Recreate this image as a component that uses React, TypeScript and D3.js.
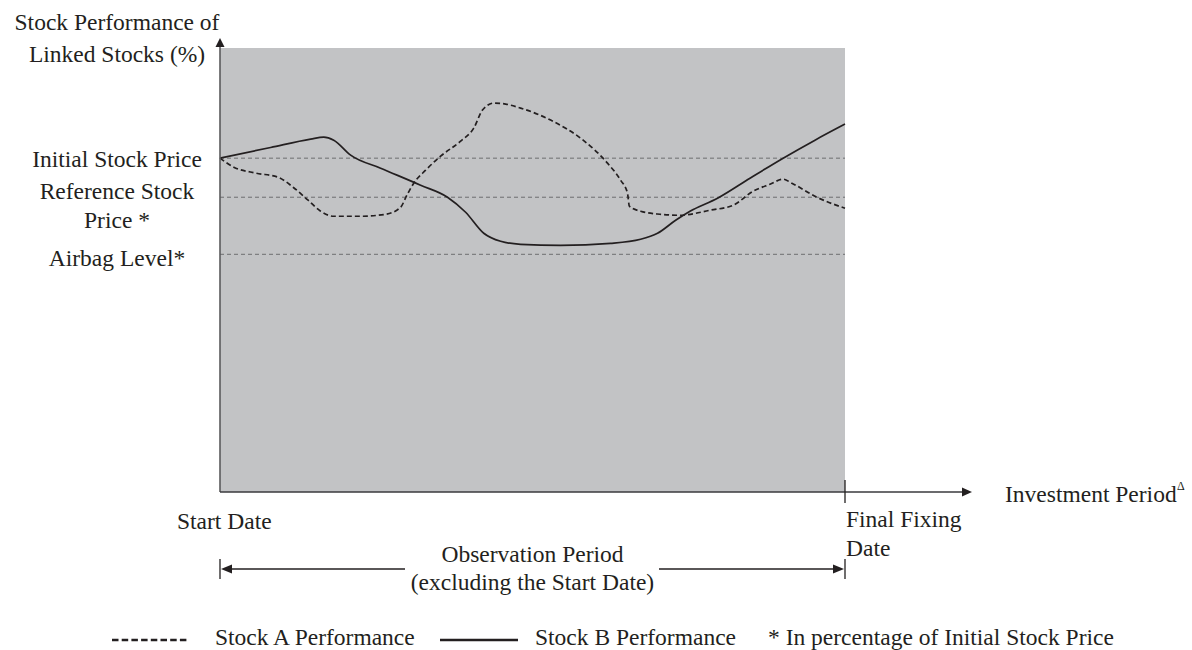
import React from "react";
import * as d3 from "d3";

// Time index (0 = Start Date, 100 = Final Fixing Date)
const stockA_t = [0, 2.2, 5.8, 9.3, 11.7, 14.1, 16.1, 18.2, 22.5, 26.5, 28.9, 29.9, 31.0, 32.9, 35.3, 38.5, 40.6, 42.0, 43.8, 45.7, 48.1, 52.9, 58.1, 62.0, 64.1, 65.2, 65.5, 67.3, 70.4, 73.6, 78.4, 82.1, 85.3, 88.0, 90.1, 91.5, 95.5, 100];
const stockA_v = [100, 97.3, 95.5, 94.3, 91.3, 87.4, 84.1, 82.6, 82.6, 83.2, 85.3, 88.9, 92.5, 96.4, 100.6, 105.1, 109.0, 114.4, 116.5, 116.2, 115.0, 111.4, 105.4, 98.5, 93.4, 89.5, 85.6, 84.1, 83.2, 82.9, 84.4, 85.9, 90.1, 92.2, 93.7, 92.5, 88.3, 85.0];
const stockB_t = [0, 8.1, 14.5, 16.6, 18.2, 20.9, 25.7, 32.1, 36.4, 39.3, 42.2, 44.9, 48.1, 54.5, 62.5, 67.3, 70.0, 72.9, 75.2, 79.6, 84.8, 90.1, 95.2, 100];
const stockB_v = [100, 103.2, 105.7, 106.3, 105.4, 100.9, 97.0, 91.9, 88.3, 83.8, 77.5, 75.1, 74.2, 73.9, 74.5, 75.7, 77.5, 81.4, 84.1, 88.0, 94.0, 100.0, 105.4, 110.2];

const levelNames = ["Initial Stock Price", "Reference Stock Price *", "Airbag Level*"];
const levelValues = [100, 88.3, 71.2];

const yDomain = [0, 133];
const xDomain = [0, 100];

const INK = "#231f20";
const FONT = "'Liberation Serif', 'Times New Roman', serif";
const FS = 23.5;

export default function App() {
  const x = d3.scaleLinear().domain(xDomain).range([220, 845]);
  const y = d3.scaleLinear().domain(yDomain).range([492, 48]);

  const line = d3
    .line<[number, number]>()
    .x((d) => x(d[0]))
    .y((d) => y(d[1]))
    .curve(d3.curveMonotoneX);

  const aPts = stockA_t.map((t, i) => [t, stockA_v[i]] as [number, number]);
  const bPts = stockB_t.map((t, i) => [t, stockB_v[i]] as [number, number]);

  const x0 = x(0);
  const x1 = x(100);
  const yb = y(0);
  const yt = y(133);
  const midX = (x0 + x1) / 2;
  const obsY = 569;

  const textProps = { fontFamily: FONT, fontSize: FS, fill: INK };

  return (
    <svg
      width={1192}
      height={650}
      style={{ position: "absolute", left: 0, top: 0, background: "#fff" }}
    >
      {/* plot background */}
      <rect x={x0} y={yt} width={x1 - x0} height={yb - yt} fill="#c2c3c5" />

      {/* level lines */}
      {levelValues.map((v, i) => (
        <line
          key={i}
          x1={x0}
          x2={x1}
          y1={y(v)}
          y2={y(v)}
          stroke="#6d6e70"
          strokeWidth={1}
          strokeDasharray="4,3"
        />
      ))}

      {/* series */}
      <path d={line(aPts) || ""} fill="none" stroke={INK} strokeWidth={1.7} strokeDasharray="5,3" />
      <path d={line(bPts) || ""} fill="none" stroke={INK} strokeWidth={1.7} />

      {/* y axis with arrow */}
      <line x1={x0} x2={x0} y1={yb} y2={45} stroke="#5a5a5c" strokeWidth={1.6} />
      <path d={`M${x0},38 L${x0 - 4.5},47 L${x0 + 4.5},47 Z`} fill={INK} />

      {/* x axis with arrow */}
      <line x1={x0} x2={964} y1={yb} y2={yb} stroke="#3a3a3c" strokeWidth={1.3} />
      <path d={`M972,${yb} L962,${yb - 4.5} L962,${yb + 4.5} Z`} fill={INK} />
      <line x1={x1} x2={x1} y1={yb - 12} y2={yb + 11} stroke={INK} strokeWidth={1.3} />

      {/* y axis title */}
      <text {...textProps} x={117} y={30} textAnchor="middle">Stock Performance of</text>
      <text {...textProps} x={117} y={62} textAnchor="middle">Linked Stocks (%)</text>

      {/* level labels */}
      <text {...textProps} x={117} y={167} textAnchor="middle">{levelNames[0]}</text>
      <text {...textProps} x={117} y={199} textAnchor="middle">Reference Stock</text>
      <text {...textProps} x={117} y={228} textAnchor="middle">Price *</text>
      <text {...textProps} x={117} y={266} textAnchor="middle">{levelNames[2]}</text>

      {/* x axis title */}
      <text {...textProps} x={1005} y={502}>
        Investment Period
      </text>
      <text fontFamily={FONT} fontSize={12} fill={INK} x={1177} y={490}>Δ</text>

      {/* date labels */}
      <text {...textProps} x={177} y={529}>Start Date</text>
      <text {...textProps} x={846} y={527}>Final Fixing</text>
      <text {...textProps} x={846} y={556}>Date</text>

      {/* observation period */}
      <text {...textProps} x={midX} y={562} textAnchor="middle">Observation Period</text>
      <text {...textProps} x={midX} y={590} textAnchor="middle">(excluding the Start Date)</text>
      <line x1={x0} x2={x0} y1={obsY - 10} y2={obsY + 10} stroke={INK} strokeWidth={1.3} />
      <line x1={x1} x2={x1} y1={obsY - 10} y2={obsY + 10} stroke={INK} strokeWidth={1.3} />
      <line x1={x0 + 8} x2={405} y1={obsY} y2={obsY} stroke={INK} strokeWidth={1.3} />
      <path d={`M${x0 + 1},${obsY} L${x0 + 12},${obsY - 4.5} L${x0 + 12},${obsY + 4.5} Z`} fill={INK} />
      <line x1={659} x2={x1 - 8} y1={obsY} y2={obsY} stroke={INK} strokeWidth={1.3} />
      <path d={`M${x1 - 1},${obsY} L${x1 - 12},${obsY - 4.5} L${x1 - 12},${obsY + 4.5} Z`} fill={INK} />

      {/* legend */}
      <line x1={112} x2={188} y1={640} y2={640} stroke={INK} strokeWidth={2.5} strokeDasharray="6.5,3.2" />
      <text {...textProps} x={215} y={645}>Stock A Performance</text>
      <line x1={440} x2={518} y1={640} y2={640} stroke={INK} strokeWidth={2.6} />
      <text {...textProps} x={535} y={645}>Stock B Performance</text>
      <text {...textProps} x={768} y={645}>* In percentage of Initial Stock Price</text>
    </svg>
  );
}
